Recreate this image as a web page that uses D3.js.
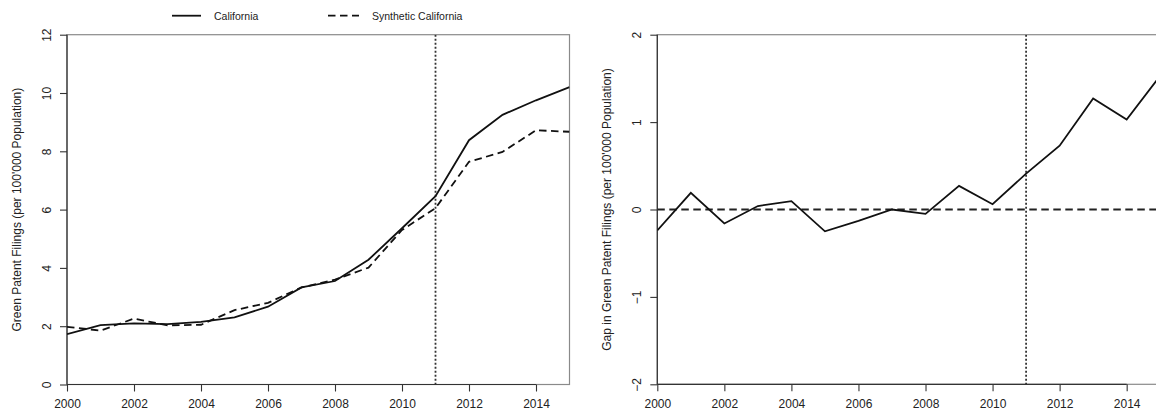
<!DOCTYPE html>
<html>
<head>
<meta charset="utf-8">
<script src="https://cdn.jsdelivr.net/npm/d3@7"></script>
<style>
  html, body { margin: 0; padding: 0; background: #fff; }
  svg { display: block; }
  text { font-family: "Liberation Sans", Arial, Helvetica, sans-serif; fill: #222; }
</style>
</head>
<body>
<svg id="chart" width="1156" height="416"></svg>
<script>
// Green patent filings per 100'000 population, 2000-2015
const years = [2000, 2001, 2002, 2003, 2004, 2005, 2006, 2007, 2008, 2009, 2010, 2011, 2012, 2013, 2014, 2015];
const california = [1.73, 2.04, 2.10, 2.07, 2.15, 2.30, 2.67, 3.33, 3.55, 4.28, 5.36, 6.46, 8.38, 9.25, 9.75, 10.20];
const syntheticCalifornia = [1.98, 1.85, 2.26, 2.03, 2.05, 2.55, 2.80, 3.33, 3.60, 4.01, 5.30, 6.05, 7.64, 7.98, 8.72, 8.67];
const gap = [-0.24, 0.19, -0.16, 0.04, 0.095, -0.25, -0.13, 0.0, -0.05, 0.27, 0.06, 0.41, 0.73, 1.27, 1.03, 1.53];

const treatmentYear = 2011;
const xTicks = [2000, 2002, 2004, 2006, 2008, 2010, 2012, 2014];
const levelTicks = [0, 2, 4, 6, 8, 10, 12];
const gapTicks = [-2, -1, 0, 1, 2];

const legendLabels = ["California", "Synthetic California"];
const levelTitle = "Green Patent Filings (per 100'000 Population)";
const gapTitle = "Gap in Green Patent Filings (per 100'000 Population)";

const svg = d3.select("#chart");
const DASH = "7.5,4.5";
const DOT = "2,2";

function panel(opts) {
  const g = svg.append("g");
  const x = d3.scaleLinear().domain([2000, 2015]).range([opts.left, opts.right]);
  const y = d3.scaleLinear().domain(opts.yDomain).range([opts.bottom, opts.top]);

  // plot frame
  g.append("rect")
    .attr("x", opts.left).attr("y", opts.top)
    .attr("width", opts.right - opts.left).attr("height", opts.bottom - opts.top)
    .attr("fill", "none").attr("stroke", "#8a8a8a").attr("stroke-width", 1.2);

  // x axis
  const xa = g.append("g").attr("transform", `translate(0,${opts.bottom})`)
    .call(d3.axisBottom(x).tickValues(xTicks).tickFormat(d3.format("d")).tickSize(7).tickPadding(8));
  xa.select(".domain").remove();
  xa.selectAll(".tick line").attr("stroke", "#333").attr("stroke-width", 1.1);
  xa.selectAll(".tick text").attr("font-size", 12).attr("fill", "#222")
    .attr("font-family", "Liberation Sans, Arial, sans-serif");
  xa.append("line")
    .attr("x1", x(xTicks[0])).attr("x2", x(xTicks[xTicks.length - 1]))
    .attr("stroke", "#333").attr("stroke-width", 1.2);

  // y axis with rotated labels
  const ya = g.append("g").attr("transform", `translate(${opts.left},0)`)
    .call(d3.axisLeft(y).tickValues(opts.yTicks).tickSize(7).tickFormat(d3.format("d")));
  ya.select(".domain").remove();
  ya.selectAll(".tick line").attr("stroke", "#333").attr("stroke-width", 1.1);
  ya.selectAll(".tick text")
    .attr("x", null).attr("dy", null)
    .attr("transform", "translate(-20.5,0) rotate(-90)")
    .attr("text-anchor", "middle").attr("dominant-baseline", "central")
    .attr("font-size", 12).attr("fill", "#222")
    .attr("font-family", "Liberation Sans, Arial, sans-serif");
  ya.append("line")
    .attr("y1", y(opts.yTicks[0])).attr("y2", y(opts.yTicks[opts.yTicks.length - 1]))
    .attr("stroke", "#333").attr("stroke-width", 1.2);

  // axis title
  g.append("text")
    .attr("transform", `translate(${opts.left - 50},${(opts.top + opts.bottom) / 2}) rotate(-90)`)
    .attr("text-anchor", "middle").attr("dominant-baseline", "central")
    .attr("font-size", 12).text(opts.title);

  // clip for series lines
  const clipId = "clip-" + opts.id;
  svg.append("clipPath").attr("id", clipId).append("rect")
    .attr("x", opts.left).attr("y", opts.top)
    .attr("width", opts.right - opts.left).attr("height", opts.bottom - opts.top);
  const plot = g.append("g").attr("clip-path", `url(#${clipId})`);

  return { g, plot, x, y };
}

// Left: California vs synthetic control
const left = panel({ id: "level", left: 67, right: 569.5, top: 34.7, bottom: 384.5,
  yDomain: [0, 12], yTicks: levelTicks, title: levelTitle });

left.plot.append("line")
  .attr("x1", left.x(treatmentYear)).attr("x2", left.x(treatmentYear))
  .attr("y1", left.y(12)).attr("y2", left.y(0))
  .attr("stroke", "#333").attr("stroke-width", 1.8).attr("stroke-dasharray", DOT);

const lineL = d3.line().x((d, i) => left.x(years[i])).y(d => left.y(d));
left.plot.append("path").datum(syntheticCalifornia).attr("d", lineL)
  .attr("fill", "none").attr("stroke", "#111").attr("stroke-width", 1.8)
  .attr("stroke-dasharray", DASH);
left.plot.append("path").datum(california).attr("d", lineL)
  .attr("fill", "none").attr("stroke", "#111").attr("stroke-width", 1.8);

// Legend
const legend = svg.append("g").attr("font-size", 10.5);
const legendItems = [
  { label: legendLabels[0], x0: 172, x1: 201, tx: 214, dash: null },
  { label: legendLabels[1], x0: 328, x1: 359, tx: 372, dash: DASH }
];
legendItems.forEach(it => {
  legend.append("line").attr("x1", it.x0).attr("x2", it.x1).attr("y1", 15.7).attr("y2", 15.7)
    .attr("stroke", "#111").attr("stroke-width", 1.8)
    .attr("stroke-dasharray", it.dash);
  legend.append("text").attr("x", it.tx).attr("y", 15.7).attr("dominant-baseline", "central")
    .attr("font-size", 10.5).text(it.label);
});

// Right: gap between California and its synthetic control
const right = panel({ id: "gap", left: 657.3, right: 1160.2, top: 34.7, bottom: 384.3,
  yDomain: [-2, 2], yTicks: gapTicks, title: gapTitle });

right.plot.append("line")
  .attr("x1", right.x(treatmentYear)).attr("x2", right.x(treatmentYear))
  .attr("y1", right.y(2)).attr("y2", right.y(-2))
  .attr("stroke", "#333").attr("stroke-width", 1.8).attr("stroke-dasharray", DOT);
right.plot.append("line")
  .attr("x1", right.x(2000)).attr("x2", right.x(2015))
  .attr("y1", right.y(0)).attr("y2", right.y(0))
  .attr("stroke", "#222").attr("stroke-width", 1.8).attr("stroke-dasharray", DASH);

const lineR = d3.line().x((d, i) => right.x(years[i])).y(d => right.y(d));
right.plot.append("path").datum(gap).attr("d", lineR)
  .attr("fill", "none").attr("stroke", "#111").attr("stroke-width", 1.8);
</script>
</body>
</html>
